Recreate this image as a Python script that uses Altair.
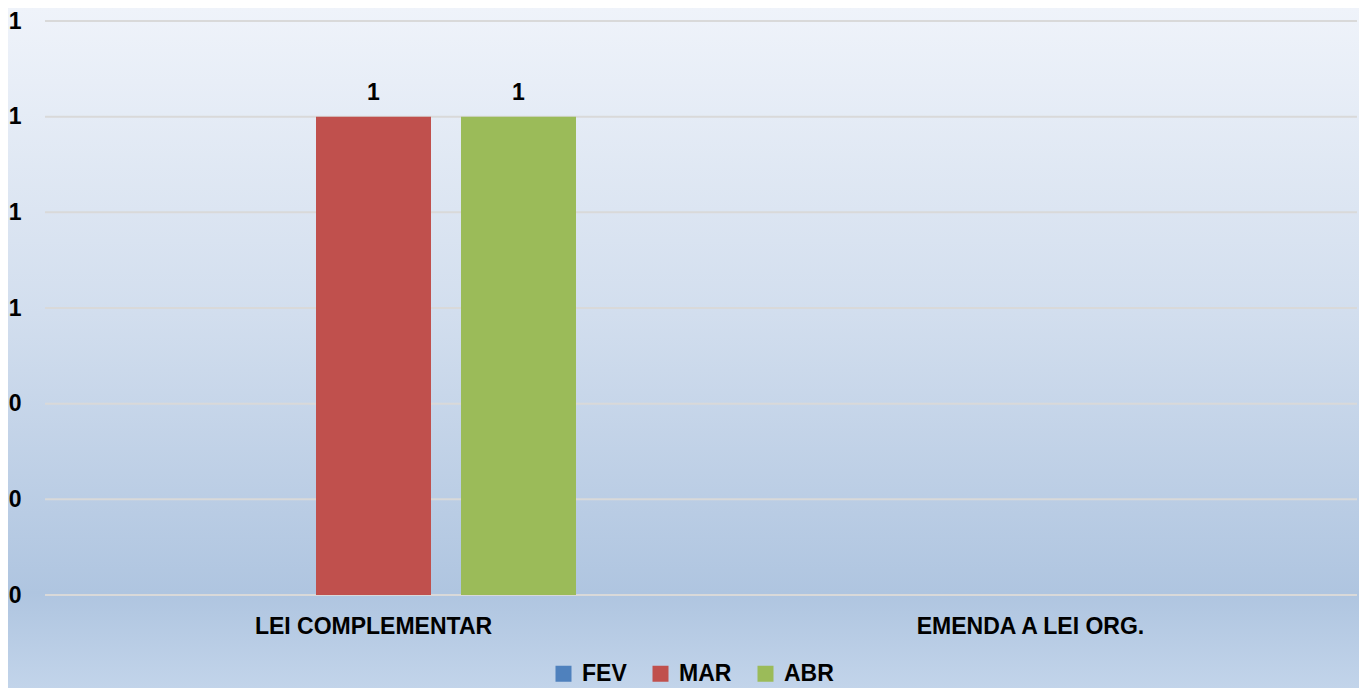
import altair as alt
import pandas as pd

categories = ["LEI COMPLEMENTAR", "EMENDA A LEI ORG."]
series = ["FEV", "MAR", "ABR"]
fev = [None, None]
mar = [1, None]
abr = [1, None]
colors = ["#4f81bd", "#c0504d", "#9bbb59"]
y_ticks = [0, 0.2, 0.4, 0.6, 0.8, 1.0, 1.2]

rows = []
for s, vals in zip(series, [fev, mar, abr]):
    for c, v in zip(categories, vals):
        rows.append({"cat": c, "serie": s, "valor": v})
df = pd.DataFrame(rows)
grid_df = pd.DataFrame({"tick": y_ticks})

FONT = "Liberation Sans"
W, H = 1314, 574
PL, PT = 37, 13
TOTAL_W, TOTAL_H = 1351, 680

bg = alt.Chart(alt.Data(values=[{"k": 1}])).mark_rect(
    fill=alt.Gradient(
        gradient="linear", x1=0, y1=0, x2=0, y2=1,
        stops=[
            alt.GradientStop(offset=0, color="#eff3fa"),
            alt.GradientStop(offset=0.45, color="#d2deee"),
            alt.GradientStop(offset=0.86, color="#afc5e0"),
            alt.GradientStop(offset=1, color="#c2d4ea"),
        ],
    )
).encode(
    x=alt.value(-PL), x2=alt.value(TOTAL_W - PL),
    y=alt.value(-PT), y2=alt.value(TOTAL_H - PT),
)

yscale = alt.Scale(domain=[0, 1.2], nice=False)
yaxis = alt.Axis(values=y_ticks, format=".0f", domain=False, ticks=False, tickSize=0,
                 grid=False, zindex=1,
                 labelFont=FONT, labelFontSize=23, labelFontWeight="bold",
                 labelColor="#000000", labelPadding=24)

grid = alt.Chart(grid_df).mark_rule(color="#d9d9d9", strokeWidth=2).encode(
    y=alt.Y("tick:Q", scale=yscale, title=None, axis=yaxis),
    x=alt.value(0), x2=alt.value(W - 2),
)

base = alt.Chart(df).encode(
    x=alt.X("cat:N", sort=categories, title=None,
            scale=alt.Scale(paddingInner=0, paddingOuter=0),
            axis=alt.Axis(labelAngle=0, domain=False, ticks=False, tickSize=0, grid=False, zindex=1,
                          labelLimit=0,
                          labelFont=FONT, labelFontSize=23, labelFontWeight="bold",
                          labelColor="#000000", labelPadding=20)),
    xOffset=alt.XOffset("serie:N", sort=series,
                        scale=alt.Scale(domain=series, paddingInner=0.2069, paddingOuter=0.869)),
)

bars = base.mark_bar().encode(
    y=alt.Y("valor:Q", title=None, scale=yscale, axis=yaxis),
    color=alt.Color("serie:N", sort=series,
                    scale=alt.Scale(domain=series, range=colors),
                    legend=alt.Legend(title=None, orient="none", direction="horizontal",
                                      legendX=507, legendY=641, zindex=1,
                                      symbolType="square", symbolSize=256, symbolStrokeWidth=0,
                                      labelFont=FONT, labelFontSize=23, labelFontWeight="bold",
                                      labelColor="#000000", labelOffset=7, columnPadding=22,
                                      padding=0)),
)

labels = base.transform_filter("datum.valor != null").mark_text(
    font=FONT, fontSize=23, fontWeight="bold", color="#000000",
    baseline="alphabetic", dy=-17,
).encode(
    y=alt.Y("valor:Q", title=None, scale=yscale, axis=yaxis),
    text=alt.Text("valor:Q", format=".0f"),
)

chart = alt.layer(bg, grid, bars, labels).properties(
    width=W, height=H,
    autosize=alt.AutoSizeParams(type="none"),
    padding={"left": PL, "top": PT, "right": TOTAL_W - PL - W, "bottom": TOTAL_H - PT - H},
    background="#d2deee",
).configure_view(strokeWidth=0)

chart.save("out.html", embed_options={"renderer": "svg", "actions": False})
